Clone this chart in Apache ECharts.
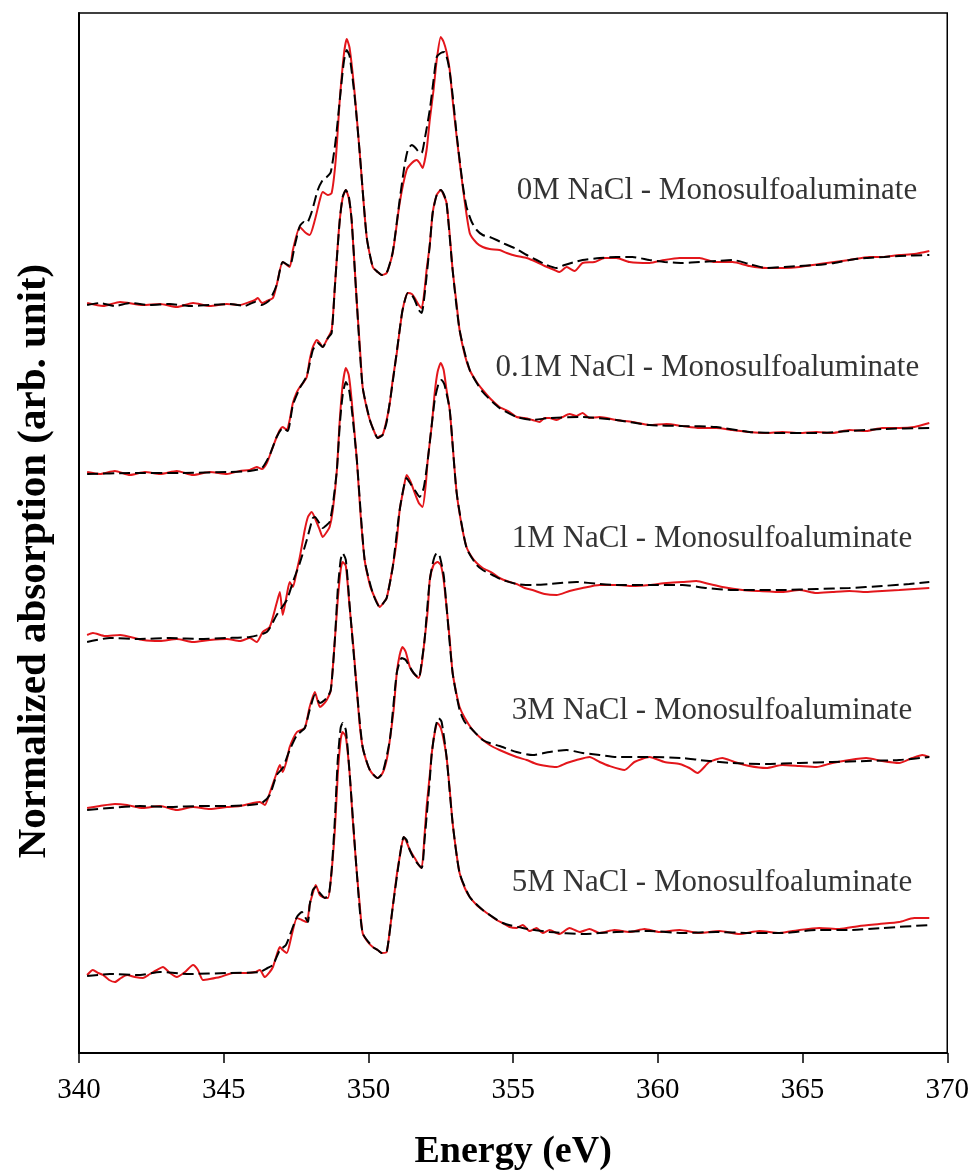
<!DOCTYPE html>
<html>
<head>
<meta charset="utf-8">
<script src="https://cdn.jsdelivr.net/npm/echarts@6/dist/echarts.min.js"></script>
<style>
html,body{margin:0;padding:0;background:#fff;}
#chart{width:972px;height:1176px;}
</style>
</head>
<body>
<div id="chart"></div>
<script>
// Energy axis ticks (eV)
const xTicks = [340, 345, 350, 355, 360, 365, 370];

// Sample names (one spectrum pair per NaCl concentration, stacked with offsets)
const sampleNames = ['0M', '0.1M', '1M', '3M', '5M'];
const labelTexts = [
  '0M NaCl - Monosulfoaluminate',
  '0.1M NaCl - Monosulfoaluminate',
  '1M NaCl - Monosulfoaluminate',
  '3M NaCl - Monosulfoaluminate',
  '5M NaCl - Monosulfoaluminate'
];
// label anchors [energy, absorption] (right end of text)
const labelAnchors = [[368.96, 8.62], [369.03, 6.85], [368.79, 5.14], [368.79, 3.42], [368.79, 1.70]];

// ---------- 0M NaCl ----------
const exp0M = [[340.28,7.50],[340.83,7.47],[341.42,7.51],[342.21,7.48],[342.80,7.49],[343.38,7.46],[343.94,7.50],[344.52,7.47],[345.11,7.49],[345.56,7.48],[345.90,7.51],[346.08,7.53],[346.18,7.55],[346.32,7.50],[346.49,7.52],[346.70,7.55],[346.83,7.68],[347.04,7.91],[347.28,7.86],[347.39,8.03],[347.63,8.26],[347.80,8.21],[347.97,8.18],[348.15,8.33],[348.32,8.53],[348.42,8.61],[348.60,8.58],[348.73,8.60],[348.87,8.93],[349.01,9.53],[349.15,9.98],[349.25,10.14],[349.35,10.05],[349.53,9.58],[349.70,9.00],[349.94,8.16],[350.15,7.86],[350.32,7.81],[350.46,7.78],[350.63,7.80],[350.84,8.00],[351.08,8.50],[351.32,8.83],[351.50,8.90],[351.67,8.93],[351.77,8.90],[351.87,8.85],[352.01,9.03],[352.12,9.33],[352.25,9.63],[352.36,9.93],[352.50,10.16],[352.60,10.11],[352.70,10.01],[352.81,9.83],[352.91,9.53],[353.05,9.16],[353.26,8.66],[353.50,8.20],[353.74,8.10],[353.95,8.06],[354.19,8.04],[354.53,8.03],[354.78,8.00],[355.12,7.97],[355.47,7.95],[355.81,7.91],[356.09,7.87],[356.26,7.85],[356.43,7.83],[356.60,7.81],[356.85,7.86],[357.12,7.82],[357.40,7.90],[357.81,7.91],[358.16,7.95],[358.57,7.95],[359.02,7.91],[359.71,7.90],[360.23,7.93],[360.75,7.95],[361.44,7.95],[361.96,7.91],[362.58,7.91],[363.16,7.87],[363.75,7.85],[364.37,7.85],[364.89,7.86],[365.58,7.89],[366.10,7.91],[366.62,7.93],[367.31,7.96],[367.75,7.96],[368.34,7.98],[368.86,7.99],[369.38,8.02]];
const fit0M = [[340.28,7.48],[340.72,7.50],[341.24,7.47],[341.76,7.50],[342.45,7.48],[343.14,7.49],[343.83,7.47],[344.52,7.48],[345.21,7.49],[345.73,7.47],[346.08,7.51],[346.32,7.48],[346.59,7.53],[346.83,7.68],[347.04,7.91],[347.28,7.87],[347.46,8.08],[347.63,8.27],[347.77,8.31],[347.87,8.30],[348.04,8.41],[348.25,8.63],[348.42,8.73],[348.56,8.76],[348.70,8.81],[348.87,9.13],[349.01,9.53],[349.15,9.91],[349.25,10.03],[349.35,9.97],[349.53,9.55],[349.70,9.00],[349.94,8.16],[350.15,7.86],[350.32,7.81],[350.46,7.78],[350.63,7.80],[350.84,8.01],[351.08,8.53],[351.25,8.88],[351.36,9.03],[351.50,9.08],[351.63,9.05],[351.74,9.01],[351.84,9.00],[351.94,9.13],[352.12,9.43],[352.25,9.73],[352.36,9.96],[352.50,10.00],[352.63,10.01],[352.77,9.88],[352.91,9.58],[353.05,9.18],[353.26,8.68],[353.39,8.46],[353.57,8.31],[353.74,8.23],[353.95,8.18],[354.19,8.16],[354.43,8.13],[354.64,8.10],[354.88,8.07],[355.12,8.04],[355.47,7.98],[355.81,7.93],[356.16,7.88],[356.50,7.85],[356.78,7.88],[357.12,7.91],[357.40,7.93],[357.99,7.95],[358.57,7.96],[359.12,7.96],[359.71,7.93],[360.23,7.91],[360.85,7.90],[361.44,7.91],[362.02,7.92],[362.58,7.93],[363.16,7.89],[363.75,7.85],[364.37,7.86],[364.89,7.87],[365.48,7.88],[366.10,7.90],[366.62,7.93],[367.20,7.95],[367.82,7.96],[368.34,7.97],[369.38,7.98]];

// ---------- 0.1M NaCl ----------
const exp01M = [[340.28,5.81],[340.72,5.79],[341.24,5.82],[341.76,5.78],[342.28,5.81],[342.80,5.79],[343.38,5.82],[343.94,5.78],[344.52,5.81],[345.11,5.79],[345.56,5.82],[345.90,5.83],[346.14,5.86],[346.32,5.84],[346.49,5.90],[346.66,6.03],[346.83,6.16],[346.94,6.23],[347.04,6.26],[347.18,6.23],[347.28,6.33],[347.39,6.50],[347.53,6.61],[347.63,6.66],[347.77,6.71],[347.87,6.76],[347.97,6.93],[348.08,7.06],[348.22,7.13],[348.32,7.10],[348.42,7.06],[348.56,7.13],[348.73,7.23],[348.84,7.66],[348.94,8.08],[349.01,8.33],[349.11,8.55],[349.22,8.63],[349.32,8.55],[349.42,8.33],[349.60,7.50],[349.70,7.08],[349.80,6.66],[349.94,6.45],[350.05,6.33],[350.22,6.20],[350.32,6.15],[350.39,6.17],[350.49,6.18],[350.63,6.33],[350.74,6.50],[350.84,6.73],[350.98,7.00],[351.08,7.23],[351.18,7.43],[351.29,7.56],[351.36,7.60],[351.50,7.59],[351.60,7.55],[351.74,7.48],[351.84,7.45],[351.94,7.63],[352.01,7.83],[352.12,8.08],[352.22,8.40],[352.36,8.58],[352.50,8.63],[352.60,8.58],[352.70,8.50],[352.81,8.18],[352.91,7.83],[353.05,7.48],[353.15,7.23],[353.33,6.98],[353.50,6.83],[353.74,6.71],[353.95,6.63],[354.19,6.55],[354.53,6.46],[354.88,6.41],[355.12,6.36],[355.40,6.35],[355.67,6.33],[355.91,6.31],[356.09,6.35],[356.26,6.35],[356.50,6.33],[356.71,6.36],[356.95,6.39],[357.19,6.37],[357.40,6.40],[357.64,6.35],[357.99,6.36],[358.57,6.33],[359.12,6.31],[359.71,6.28],[360.30,6.29],[360.85,6.27],[361.44,6.25],[362.02,6.25],[362.58,6.23],[363.16,6.21],[363.75,6.20],[364.30,6.21],[364.89,6.20],[365.48,6.21],[366.03,6.20],[366.62,6.23],[367.20,6.22],[367.75,6.25],[368.34,6.25],[368.86,6.26],[369.38,6.30]];
const fit01M = [[340.28,5.79],[341.76,5.80],[343.49,5.80],[345.21,5.81],[345.90,5.82],[346.32,5.85],[346.59,5.98],[346.83,6.16],[347.04,6.25],[347.21,6.22],[347.39,6.48],[347.63,6.65],[347.87,6.77],[348.08,7.03],[348.25,7.10],[348.42,7.06],[348.60,7.15],[348.73,7.20],[348.84,7.66],[349.01,8.33],[349.11,8.56],[349.22,8.63],[349.32,8.57],[349.42,8.33],[349.60,7.50],[349.80,6.66],[350.05,6.33],[350.22,6.20],[350.32,6.15],[350.49,6.18],[350.63,6.31],[350.84,6.71],[351.08,7.23],[351.18,7.43],[351.36,7.60],[351.50,7.58],[351.60,7.53],[351.74,7.43],[351.84,7.40],[351.94,7.58],[352.12,8.08],[352.22,8.40],[352.36,8.58],[352.50,8.63],[352.60,8.59],[352.70,8.50],[352.91,7.83],[353.15,7.23],[353.50,6.83],[353.95,6.61],[354.53,6.45],[355.12,6.36],[355.67,6.33],[356.26,6.35],[357.40,6.36],[358.57,6.33],[359.71,6.28],[360.85,6.27],[362.02,6.26],[363.16,6.21],[364.30,6.20],[365.48,6.20],[366.62,6.22],[367.75,6.24],[369.38,6.25]];

// ---------- 1M NaCl ----------
const exp1M = [[340.28,4.18],[340.48,4.20],[340.90,4.17],[341.42,4.18],[342.21,4.13],[342.80,4.12],[343.38,4.14],[343.94,4.11],[344.52,4.13],[345.11,4.14],[345.56,4.12],[345.90,4.15],[346.14,4.11],[346.35,4.21],[346.59,4.26],[346.83,4.50],[346.94,4.61],[347.04,4.38],[347.18,4.58],[347.28,4.71],[347.39,4.66],[347.53,4.83],[347.63,4.96],[347.80,5.23],[347.91,5.36],[348.04,5.41],[348.18,5.33],[348.32,5.23],[348.42,5.16],[348.56,5.21],[348.66,5.26],[348.77,5.43],[348.91,5.83],[349.01,6.33],[349.11,6.68],[349.22,6.85],[349.32,6.78],[349.42,6.53],[349.60,5.93],[349.73,5.38],[349.87,4.93],[350.05,4.68],[350.15,4.60],[350.29,4.51],[350.39,4.46],[350.49,4.49],[350.63,4.55],[350.84,4.86],[350.98,5.13],[351.08,5.43],[351.22,5.65],[351.32,5.78],[351.46,5.71],[351.60,5.60],[351.74,5.50],[351.87,5.46],[351.98,5.68],[352.05,5.93],[352.19,6.28],[352.29,6.60],[352.39,6.81],[352.50,6.90],[352.60,6.83],[352.70,6.63],[352.81,6.43],[352.91,6.08],[353.05,5.60],[353.22,5.28],[353.39,5.06],[353.57,4.96],[353.74,4.90],[353.95,4.85],[354.29,4.80],[354.53,4.75],[354.88,4.71],[355.12,4.69],[355.40,4.65],[355.67,4.63],[356.09,4.59],[356.50,4.58],[356.95,4.62],[357.40,4.65],[357.99,4.68],[358.57,4.68],[359.12,4.67],[359.71,4.68],[360.30,4.70],[360.85,4.71],[361.33,4.72],[361.78,4.69],[362.23,4.66],[362.92,4.63],[363.51,4.62],[364.30,4.61],[364.89,4.63],[365.48,4.60],[366.03,4.61],[366.62,4.62],[367.20,4.61],[367.75,4.62],[368.34,4.63],[368.86,4.64],[369.38,4.65]];
const fit1M = [[340.28,4.11],[341.07,4.15],[342.11,4.14],[343.14,4.15],[344.18,4.14],[345.11,4.15],[345.90,4.16],[346.49,4.21],[346.83,4.38],[347.18,4.53],[347.39,4.71],[347.63,4.90],[347.87,5.13],[348.08,5.35],[348.15,5.36],[348.28,5.31],[348.42,5.25],[348.56,5.28],[348.66,5.31],[348.77,5.48],[348.91,5.83],[349.01,6.28],[349.11,6.58],[349.22,6.71],[349.32,6.65],[349.42,6.45],[349.60,5.93],[349.87,4.93],[350.15,4.60],[350.39,4.46],[350.49,4.49],[350.63,4.55],[350.84,4.86],[351.08,5.43],[351.32,5.75],[351.46,5.69],[351.60,5.63],[351.77,5.56],[351.91,5.65],[352.05,5.93],[352.29,6.53],[352.43,6.70],[352.53,6.73],[352.63,6.68],[352.81,6.43],[353.05,5.60],[353.39,5.05],[353.74,4.88],[353.95,4.83],[354.29,4.78],[354.64,4.73],[355.12,4.69],[355.67,4.68],[356.26,4.69],[357.19,4.71],[357.99,4.69],[358.57,4.68],[359.71,4.68],[360.85,4.68],[361.68,4.65],[362.58,4.63],[363.51,4.63],[364.30,4.63],[365.48,4.64],[366.62,4.65],[367.75,4.67],[368.69,4.69],[369.38,4.71]];

// ---------- 3M NaCl ----------
const exp3M = [[340.28,2.45],[340.72,2.47],[341.24,2.49],[341.66,2.48],[342.21,2.45],[342.80,2.47],[343.38,2.43],[343.94,2.46],[344.52,2.44],[345.11,2.46],[345.56,2.47],[346.01,2.50],[346.25,2.51],[346.42,2.48],[346.59,2.60],[346.83,2.80],[346.94,2.88],[347.04,2.81],[347.18,2.93],[347.28,3.06],[347.53,3.21],[347.80,3.25],[347.97,3.46],[348.15,3.61],[348.32,3.46],[348.42,3.48],[348.56,3.53],[348.70,3.63],[348.84,4.13],[348.94,4.53],[349.04,4.83],[349.11,4.91],[349.22,4.87],[349.35,4.46],[349.49,4.03],[349.60,3.63],[349.70,3.28],[349.80,3.06],[349.94,2.91],[350.05,2.83],[350.18,2.78],[350.32,2.75],[350.49,2.80],[350.63,2.93],[350.74,3.13],[350.87,3.43],[350.98,3.80],[351.08,3.98],[351.18,4.06],[351.29,4.01],[351.43,3.86],[351.56,3.80],[351.74,3.75],[351.84,3.88],[351.94,4.13],[352.05,4.43],[352.12,4.73],[352.25,4.88],[352.39,4.91],[352.50,4.88],[352.60,4.73],[352.70,4.46],[352.81,4.13],[352.91,3.80],[353.05,3.58],[353.15,3.46],[353.33,3.35],[353.60,3.23],[353.84,3.16],[354.19,3.08],[354.53,3.03],[355.12,2.96],[355.47,2.93],[355.81,2.89],[356.16,2.87],[356.50,2.86],[356.85,2.90],[357.19,2.93],[357.64,2.96],[357.99,2.91],[358.33,2.87],[358.85,2.83],[359.19,2.91],[359.71,2.96],[360.23,2.91],[360.75,2.89],[361.09,2.85],[361.37,2.80],[361.78,2.91],[362.23,2.95],[362.65,2.91],[363.16,2.87],[363.75,2.85],[364.30,2.88],[364.89,2.87],[365.48,2.86],[366.03,2.90],[366.62,2.93],[367.20,2.95],[367.75,2.92],[368.34,2.90],[368.79,2.95],[369.14,2.98],[369.38,2.96]];
const fit3M = [[340.28,2.43],[341.07,2.45],[342.11,2.47],[343.14,2.46],[344.18,2.47],[345.11,2.47],[345.90,2.48],[346.32,2.50],[346.59,2.58],[346.83,2.78],[347.04,2.85],[347.28,3.03],[347.53,3.18],[347.80,3.25],[347.97,3.43],[348.15,3.58],[348.32,3.50],[348.56,3.55],[348.70,3.63],[348.84,4.13],[348.94,4.63],[349.04,4.93],[349.11,5.00],[349.22,4.93],[349.35,4.48],[349.60,3.63],[349.80,3.06],[350.05,2.83],[350.32,2.75],[350.49,2.80],[350.74,3.13],[350.98,3.80],[351.15,3.95],[351.29,3.93],[351.43,3.86],[351.56,3.80],[351.74,3.75],[351.84,3.91],[351.94,4.13],[352.12,4.73],[352.25,4.93],[352.36,5.00],[352.46,4.97],[352.60,4.78],[352.70,4.46],[352.91,3.80],[353.15,3.43],[353.33,3.31],[353.60,3.23],[353.95,3.13],[354.19,3.10],[354.53,3.07],[355.12,3.01],[355.67,2.98],[356.26,3.01],[356.85,3.03],[357.40,3.00],[357.99,2.98],[358.57,2.96],[359.71,2.96],[360.85,2.95],[361.44,2.93],[362.58,2.90],[363.75,2.89],[364.89,2.90],[366.03,2.91],[367.20,2.92],[368.34,2.93],[369.38,2.96]];

// ---------- 5M NaCl ----------
const exp5M = [[340.28,0.78],[340.48,0.83],[340.66,0.80],[340.83,0.78],[341.04,0.73],[341.24,0.71],[341.45,0.75],[341.66,0.78],[341.93,0.76],[342.21,0.75],[342.45,0.79],[342.69,0.83],[342.90,0.86],[343.14,0.80],[343.38,0.76],[343.66,0.81],[343.94,0.88],[344.11,0.83],[344.28,0.73],[344.52,0.74],[344.87,0.76],[345.32,0.80],[345.80,0.80],[346.08,0.81],[346.25,0.83],[346.42,0.76],[346.59,0.81],[346.70,0.86],[346.83,0.98],[346.94,1.06],[347.04,1.03],[347.18,1.00],[347.35,1.18],[347.53,1.35],[347.70,1.33],[347.87,1.31],[347.97,1.48],[348.08,1.60],[348.18,1.68],[348.32,1.58],[348.42,1.56],[348.60,1.55],[348.70,1.73],[348.84,2.23],[348.94,2.78],[349.04,3.13],[349.11,3.21],[349.22,3.16],[349.35,2.80],[349.46,2.33],[349.60,1.80],[349.70,1.48],[349.80,1.20],[349.98,1.11],[350.15,1.06],[350.32,1.03],[350.46,1.00],[350.63,1.01],[350.74,1.23],[350.84,1.46],[350.98,1.78],[351.08,1.96],[351.22,2.16],[351.32,2.11],[351.43,2.03],[351.60,1.95],[351.74,1.88],[351.84,1.85],[351.94,2.18],[352.01,2.46],[352.12,2.78],[352.19,3.00],[352.29,3.20],[352.39,3.30],[352.50,3.25],[352.60,3.13],[352.70,2.96],[352.81,2.63],[352.91,2.30],[353.05,1.98],[353.15,1.80],[353.33,1.65],[353.50,1.56],[353.74,1.48],[353.95,1.43],[354.19,1.38],[354.43,1.33],[354.64,1.30],[354.88,1.26],[355.12,1.25],[355.33,1.28],[355.57,1.22],[355.81,1.25],[356.02,1.20],[356.26,1.23],[356.60,1.19],[356.95,1.25],[357.30,1.21],[357.64,1.24],[357.99,1.20],[358.50,1.23],[359.02,1.21],[359.54,1.24],[360.06,1.21],[360.75,1.23],[361.44,1.20],[362.13,1.22],[362.82,1.19],[363.51,1.22],[364.20,1.20],[364.89,1.23],[365.58,1.25],[366.27,1.24],[366.96,1.27],[367.65,1.29],[368.34,1.31],[368.86,1.35],[369.38,1.35]];
const fit5M = [[340.28,0.77],[341.07,0.79],[342.11,0.78],[342.80,0.81],[343.83,0.79],[345.11,0.80],[346.25,0.81],[346.52,0.85],[346.70,0.88],[346.94,1.03],[347.15,1.08],[347.35,1.23],[347.53,1.36],[347.70,1.41],[347.91,1.31],[347.97,1.48],[348.08,1.63],[348.18,1.66],[348.32,1.60],[348.49,1.55],[348.63,1.58],[348.73,1.83],[348.84,2.33],[348.94,2.93],[349.04,3.25],[349.11,3.30],[349.22,3.23],[349.35,2.80],[349.60,1.80],[349.80,1.20],[350.15,1.06],[350.32,1.03],[350.46,1.00],[350.63,1.01],[350.84,1.46],[351.08,1.96],[351.22,2.16],[351.32,2.13],[351.43,2.03],[351.60,1.93],[351.84,1.85],[351.94,2.13],[352.12,2.73],[352.19,3.00],[352.32,3.26],[352.43,3.35],[352.53,3.31],[352.70,2.96],[352.91,2.30],[353.15,1.80],[353.50,1.56],[353.95,1.43],[354.64,1.30],[355.33,1.25],[356.26,1.21],[357.40,1.19],[358.57,1.21],[359.71,1.22],[360.85,1.20],[362.02,1.21],[363.16,1.20],[364.30,1.20],[365.48,1.23],[366.62,1.23],[367.75,1.25],[369.38,1.28]];

const expSets = [exp0M, exp01M, exp1M, exp3M, exp5M];
const fitSets = [fit0M, fit01M, fit1M, fit3M, fit5M];

const FONT = "'Liberation Serif','Times New Roman',serif";
const chart = echarts.init(document.getElementById('chart'), null, {renderer: 'canvas'});

const series = [];
sampleNames.forEach((n, i) => {
  series.push({
    name: n + ' experimental', type: 'line', data: expSets[i], showSymbol: false,
    smooth: 0.2, lineStyle: {color: '#e3161b', width: 2}, z: 2, silent: true
  });
});
sampleNames.forEach((n, i) => {
  series.push({
    name: n + ' fit', type: 'line', data: fitSets[i], showSymbol: false,
    smooth: 0.2, lineStyle: {color: '#000', width: 2, type: [11, 5]}, z: 3, silent: true
  });
});
series.push({
  type: 'scatter', symbolSize: 1, itemStyle: {color: 'rgba(0,0,0,0)'}, silent: true, z: 4,
  data: labelAnchors.map((p, i) => ({value: p, name: labelTexts[i]})),
  label: {show: true, position: 'inside', align: 'right', verticalAlign: 'middle',
    formatter: p => p.name, fontFamily: FONT, fontSize: 31, color: '#000'}
});

chart.setOption({
  animation: false,
  backgroundColor: '#fff',
  grid: {left: 79, right: 24, top: 13, bottom: 123, show: true, borderColor: '#000', borderWidth: 1.5, backgroundColor: 'rgba(0,0,0,0)'},
  xAxis: {
    type: 'value', min: xTicks[0], max: xTicks[xTicks.length - 1], interval: 5,
    name: 'Energy (eV)', nameLocation: 'middle', nameGap: 80,
    nameTextStyle: {fontFamily: FONT, fontSize: 38, fontWeight: 'bold', color: '#000'},
    axisLine: {lineStyle: {color: '#000', width: 2}},
    axisTick: {show: true, inside: false, length: 10, lineStyle: {color: '#000', width: 1.5}},
    axisLabel: {fontFamily: FONT, fontSize: 29, color: '#000', margin: 23},
    splitLine: {show: false}
  },
  yAxis: {
    type: 'value', min: 0, max: 10.4,
    name: 'Normalized absorption (arb. unit)', nameLocation: 'middle', nameGap: 24,
    nameTextStyle: {fontFamily: FONT, fontSize: 41, fontWeight: 'bold', color: '#000', padding: [0, 56, 0, 0]},
    axisLine: {show: true, lineStyle: {color: '#000', width: 2}},
    axisTick: {show: false}, axisLabel: {show: false}, splitLine: {show: false}
  },
  series: series
});
</script>
</body>
</html>
